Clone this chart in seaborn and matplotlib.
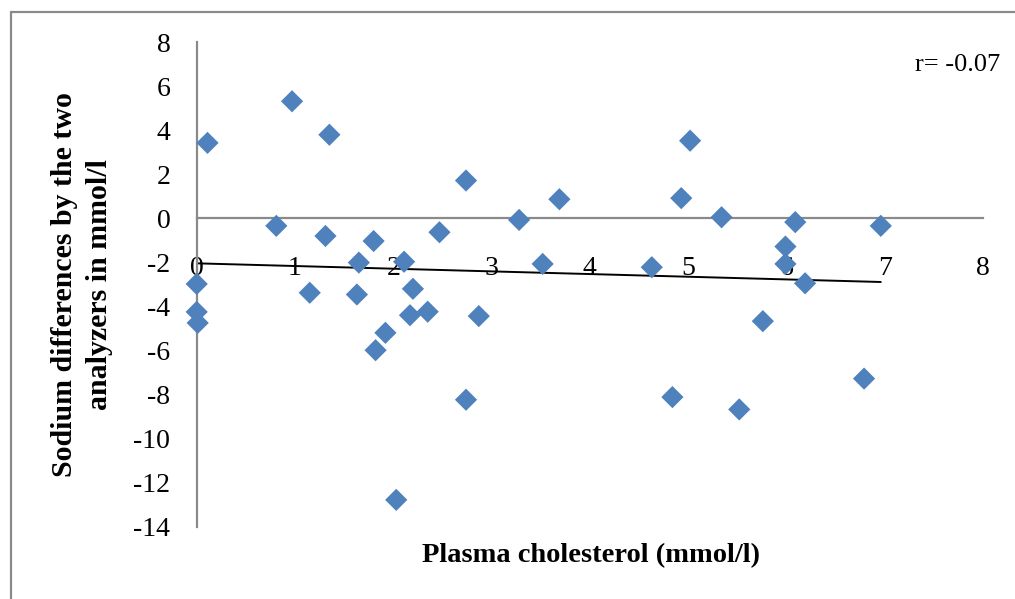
import matplotlib
matplotlib.use("Agg")
import matplotlib.pyplot as plt
from matplotlib.lines import Line2D
import seaborn as sns
import pandas as pd
import numpy as np

# Data
cholesterol = [0.11, 0.97, 1.35, 2.74, 0.81, 1.31, 1.80, 2.47, 1.65, 2.11,
               0.00, 0.00, 0.01, 1.15, 1.63, 2.20, 2.17, 2.35, 2.87, 1.92,
               1.82, 2.74, 2.03, 3.28, 3.69, 5.02, 4.93, 5.34, 6.09, 5.99,
               3.52, 4.63, 5.99, 6.96, 6.19, 5.76, 4.84, 5.52, 6.79]
sodium_diff = [3.43, 5.32, 3.80, 1.72, -0.34, -0.80, -1.03, -0.63, -2.01, -1.97,
               -2.98, -4.25, -4.75, -3.38, -3.46, -3.20, -4.40, -4.24, -4.44, -5.20,
               -5.99, -8.24, -12.79, -0.07, 0.87, 3.53, 0.92, 0.05, -0.17, -1.28,
               -2.07, -2.22, -2.07, -0.34, -2.95, -4.67, -8.12, -8.68, -7.28]
x_ticks = [0, 1, 2, 3, 4, 5, 6, 7, 8]
y_ticks = [-14, -12, -10, -8, -6, -4, -2, 0, 2, 4, 6, 8]
x_label = "Plasma cholesterol (mmol/l)"
y_label = "Sodium differences by the two\nanalyzers in mmol/l"
r_text = "r= -0.07"

df = pd.DataFrame({"chol": cholesterol, "diff": sodium_diff})

sns.set_style("white")
plt.rcParams["font.family"] = ["Liberation Serif", "DejaVu Serif"]
plt.rcParams["text.color"] = "black"
plt.rcParams["xtick.labelcolor"] = "black"
plt.rcParams["ytick.labelcolor"] = "black"

W, H = 1015, 599
fig = plt.figure(figsize=(W / 100, H / 100), dpi=100)
ax = fig.add_axes([196.7 / W, 1 - 526.5 / H, (983 - 196.7) / W, (526.5 - 42.3) / H])

axis_grey = "#8a8a8a"

sns.regplot(data=df, x="chol", y="diff", scatter=False, ci=None, ax=ax,
            line_kws=dict(color="black", lw=1.4, zorder=2))
sns.scatterplot(data=df, x="chol", y="diff", marker="D", s=128, color="#4F81BD",
                edgecolor="none", linewidth=0, ax=ax, zorder=3, clip_on=False)

ax.set_xlim(0, 8)
ax.set_ylim(-14, 8)
ax.set_xticks(x_ticks)
ax.set_yticks(y_ticks)
ax.set_xticklabels([str(t) for t in x_ticks])
ax.set_yticklabels([str(t) for t in y_ticks])
ax.set_xlabel("")
ax.set_ylabel("")

for side in ["top", "right"]:
    ax.spines[side].set_visible(False)
ax.spines["bottom"].set_position(("data", 0))
for side in ["left", "bottom"]:
    ax.spines[side].set_color(axis_grey)
    ax.spines[side].set_linewidth(1.6)

ax.tick_params(axis="x", direction="out", length=6, width=1.6, color=axis_grey,
               labelcolor="black", labelsize=20, pad=21)
ax.tick_params(axis="y", direction="out", length=6, width=1.6, color=axis_grey,
               labelcolor="black", labelsize=20, pad=13)
ax.patch.set_alpha(0)

fig.text(591 / W, 1 - 556 / H, x_label, ha="center", va="center",
         fontsize=20.5, fontweight="bold", color="black")
fig.text(82 / W, 1 - 285 / H, y_label, ha="center", va="center",
         rotation=90, fontsize=21.5, fontweight="bold", linespacing=1.35,
         multialignment="center", color="black")
fig.text(958 / W, 1 - 65 / H, r_text, ha="center", va="center", fontsize=19,
         color="black")

# chart-area frame (top and left edges visible)
fx = 10.5 / W
fy = 1 - 11.5 / H
fig.add_artist(Line2D([fx, 1.0], [fy, fy], transform=fig.transFigure,
                      color=axis_grey, lw=1.6))
fig.add_artist(Line2D([fx, fx], [0, fy], transform=fig.transFigure,
                      color=axis_grey, lw=1.6))

fig.savefig("out.png", dpi=100)
